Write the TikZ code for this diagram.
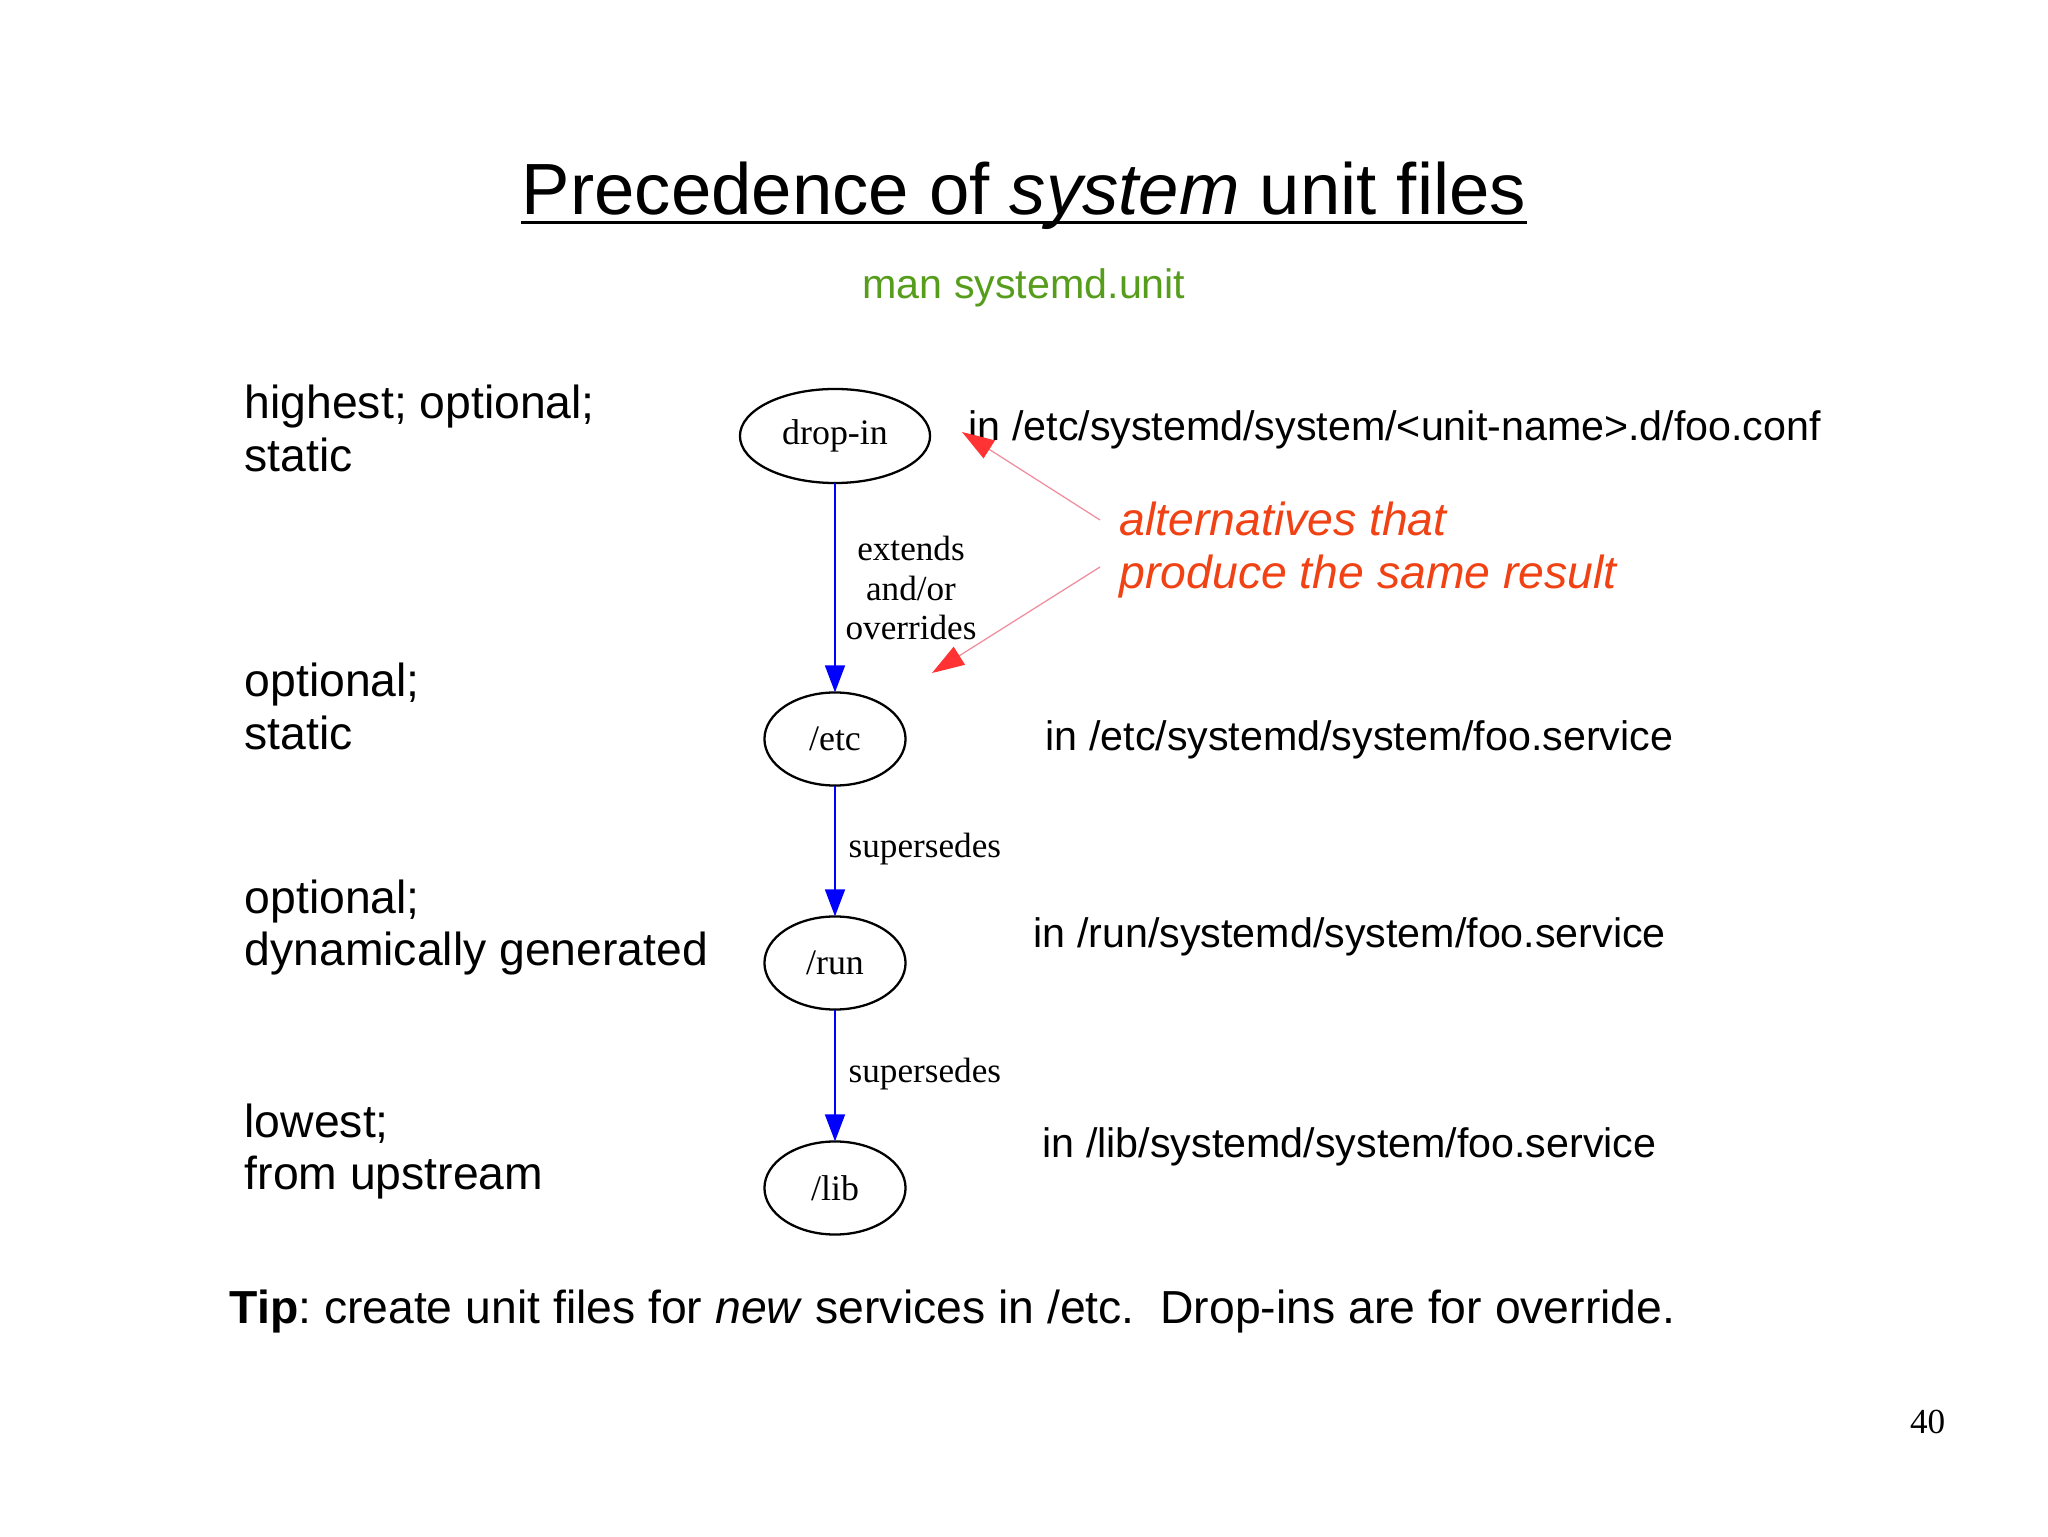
\documentclass[tikz,border=0pt]{standalone}
\usepackage{fontspec}
\setmainfont{Liberation Sans}
\newfontfamily\gvfont{Liberation Serif}
\usetikzlibrary{shapes.geometric,arrows.meta}
\definecolor{mangreen}{HTML}{579D1C}
\definecolor{altred}{RGB}{240,66,20}
\definecolor{tipred}{RGB}{255,51,51}
\definecolor{linepink}{RGB}{240,140,155}
\frenchspacing
\begin{document}
\frenchspacing
\begin{tikzpicture}[x=0.01cm,y=-0.01cm,
  gvnode/.style={ellipse, draw, line width=0.65pt, inner sep=0pt, outer sep=0pt,
    font=\gvfont\fontsize{10.2}{12}\selectfont},
  gvedge/.style={draw=blue, line width=0.75pt, -{Triangle[length=7.7pt,width=5.6pt]}},
  gvlabel/.style={font=\gvfont\fontsize{10}{11.1}\selectfont, inner sep=0pt},
  bigtext/.style={font=\fontsize{13.17}{14.9}\selectfont, inner sep=0pt, anchor=base west},
  pathtext/.style={font=\fontsize{11.72}{14}\selectfont, inner sep=0pt, anchor=base west},
  altarrow/.style={draw=linepink, line width=0.35pt, -{Triangle[length=9.2pt,width=6pt,color=tipred]}}
]
\path[use as bounding box, fill=white] (0,0) rectangle (2048,1537);

% title
\node[font=\fontsize{20.63}{24}\selectfont, inner sep=0pt, anchor=base] (title) at (1024,215)
  {Precedence of {\itshape system} unit files};
\draw[line width=0.85pt] ([yshift=-2.2pt]title.base west) -- ([yshift=-2.2pt]title.base east);
\node[font=\fontsize{11.72}{14}\selectfont, text=mangreen, inner sep=0pt, anchor=base] (man) at (1024,299)
  {man systemd.unit};

% left descriptions
\node[bigtext] (d1) at (244,419) {\begin{tabular}[t]{@{}l@{}}highest; optional;\\static\end{tabular}};
\node[bigtext] (d2) at (244,697) {\begin{tabular}[t]{@{}l@{}}optional;\\static\end{tabular}};
\node[bigtext] (d3) at (244,913) {\begin{tabular}[t]{@{}l@{}}optional;\\dynamically generated\end{tabular}};
\node[bigtext] (d4) at (244,1137) {\begin{tabular}[t]{@{}l@{}}lowest;\\from upstream\end{tabular}};

% graph nodes
\node[gvnode, minimum width=1.9cm, minimum height=0.94cm] (drop) at (835,436) {drop-in};
\node[gvnode, minimum width=1.41cm, minimum height=0.93cm] (etc) at (835,739) {/etc};
\node[gvnode, minimum width=1.41cm, minimum height=0.93cm] (run) at (835,963) {/run};
\node[gvnode, minimum width=1.41cm, minimum height=0.93cm] (lib) at (835,1188) {/lib};

% graph edges
\draw[gvedge] (drop) -- (etc);
\draw[gvedge] (etc) -- (run);
\draw[gvedge] (run) -- (lib);
\node[gvlabel, align=center] (l1) at (911,588) {extends\\and/or\\overrides};
\node[gvlabel, anchor=base west] (l2) at (848,858) {supersedes};
\node[gvlabel, anchor=base west] (l3) at (848,1082) {supersedes};

% right path texts
\node[pathtext] (p1) at (968,441) {in /etc/systemd/system/<unit-name>.d/foo.conf};
\node[pathtext] (p2) at (1045,751) {in /etc/systemd/system/foo.service};
\node[pathtext] (p3) at (1033,948) {in /run/systemd/system/foo.service};
\node[pathtext] (p4) at (1042,1157) {in /lib/systemd/system/foo.service};

% alternatives note
\node[bigtext, text=altred] (alt) at (1119,536)
  {\itshape\begin{tabular}[t]{@{}l@{}}alternatives that\\produce the same result\end{tabular}};
\coordinate (a1s) at (1100,520);
\coordinate (a1t) at (962,432);
\coordinate (a2s) at (1100,567);
\coordinate (a2t) at (932,673);
\draw[altarrow] (a1s) -- (a1t);
\draw[altarrow] (a2s) -- (a2t);

% tip
\node[bigtext] (tip) at (229,1323)
  {\textbf{Tip}: create unit files for \textit{new} services in /etc.\ \ Drop-ins are for override.};

% page number
\node[font=\gvfont\fontsize{10}{12}\selectfont, inner sep=0pt, anchor=base east] (pg) at (1946,1433) {40};
\end{tikzpicture}
\end{document}
